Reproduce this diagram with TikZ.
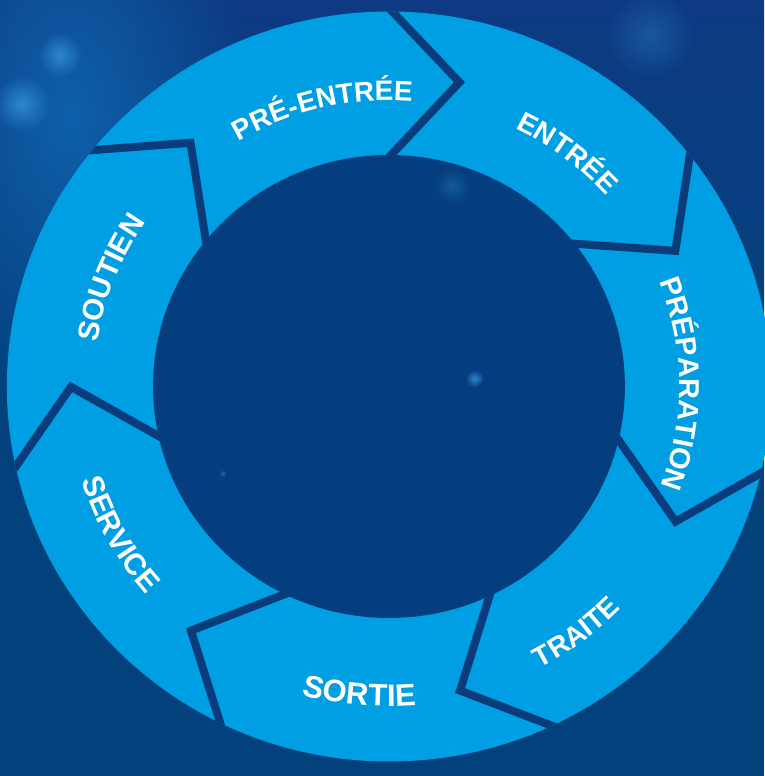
\documentclass[tikz,border=0pt]{standalone}
\usepackage{fontspec}
\setmainfont{Liberation Sans}
\usetikzlibrary{decorations.text,calc,fadings}
\definecolor{bgdark}{RGB}{3,65,124}
\definecolor{bgtop}{RGB}{13,58,130}
\definecolor{bglight}{RGB}{14,96,170}
\definecolor{ringblue}{RGB}{0,158,226}
\definecolor{gapblue}{RGB}{10,60,124}
\definecolor{innerblue}{RGB}{4,62,126}
\definecolor{spotblue}{RGB}{50,140,210}
\tikzfading[name=softspot, inner color=transparent!0, outer color=transparent!100]
\tikzset{
  gapline/.style={draw=gapblue, line width=8pt, miter limit=20, line join=miter},
  bokeh/.style={fill=spotblue, path fading=softspot},
  lbl/.style 2 args={decorate, decoration={text along path, text align=center, text color=white, text={|\fontsize{#1}{#1}\selectfont\bfseries|#2}}},
}
\begin{document}
\begin{tikzpicture}[x=1pt,y=1pt]
\useasboundingbox (0,0) rectangle (764,776);
% background
\fill[bgdark] (0,0) rectangle (764,776);
\shade[top color=bgtop, bottom color=bgdark] (0,400) rectangle (764,776);
\fill[bglight, path fading=softspot] (70,660) ellipse[x radius=180, y radius=300];
\fill[bokeh, opacity=0.9] (60,721) circle[radius=22];
\fill[bokeh, opacity=0.9] (22,672) circle[radius=28];
\fill[bokeh, opacity=0.35] (650,741) circle[radius=45];
\begin{scope}[shift={(389,389.5)}, xscale=1.019]
  % ring
  \fill[ringblue] (0,0) circle[radius=375];
  % chevron gaps
  \begin{scope}
    \clip (0,0) circle[radius=375];
    \foreach \k in {0,...,6} {
      \pgfmathsetmacro\ta{89.5-51.428571*\k}
      \pgfmathsetmacro\tb{\ta-12.3}
      \coordinate (o\k) at (\ta:375);
      \coordinate (t\k) at (\tb:312);
      \coordinate (i\k) at (\ta:231.5);
      \draw[gapline] ($(t\k)!1.3!(o\k)$) -- (t\k) -- ($(t\k)!1.5!(i\k)$);
    }
  \end{scope}
  % inner disc
  \fill[innerblue] (0,0) circle[radius=231.5];
  \fill[bokeh, opacity=0.35] (62,200) circle[radius=18];
  \fill[bokeh, opacity=0.9] (84,8) circle[radius=9];
  \fill[bokeh, opacity=0.5] (-163,-87) circle[radius=4];
  % labels (clockwise, tops outward)
  \path[lbl={28}{PRÉ-ENTRÉE}] (148.3:286) arc[start angle=148.3, end angle=58.3, radius=286];
  \path[lbl={28}{ENTRÉE}] (97.9:286) arc[start angle=97.9, end angle=7.9, radius=286];
  \path[lbl={28.8}{PRÉPARATION}] (50.5:285) arc[start angle=50.5, end angle=-49.5, radius=285];
  \path[lbl={29.5}{SOUTIEN}] (203.5:289.5) arc[start angle=203.5, end angle=113.5, radius=289.5];
  % labels (counter-clockwise, tops inward)
  \path[lbl={28}{TRAITE}] (-98:318) arc[start angle=-98, end angle=-8, radius=318];
  \path[lbl={31}{SORTIE}] (-140.4:320) arc[start angle=-140.4, end angle=-50.4, radius=320];
  \path[lbl={30}{SERVICE}] (-196:316) arc[start angle=-196, end angle=-106, radius=316];
\end{scope}
\end{tikzpicture}
\end{document}
